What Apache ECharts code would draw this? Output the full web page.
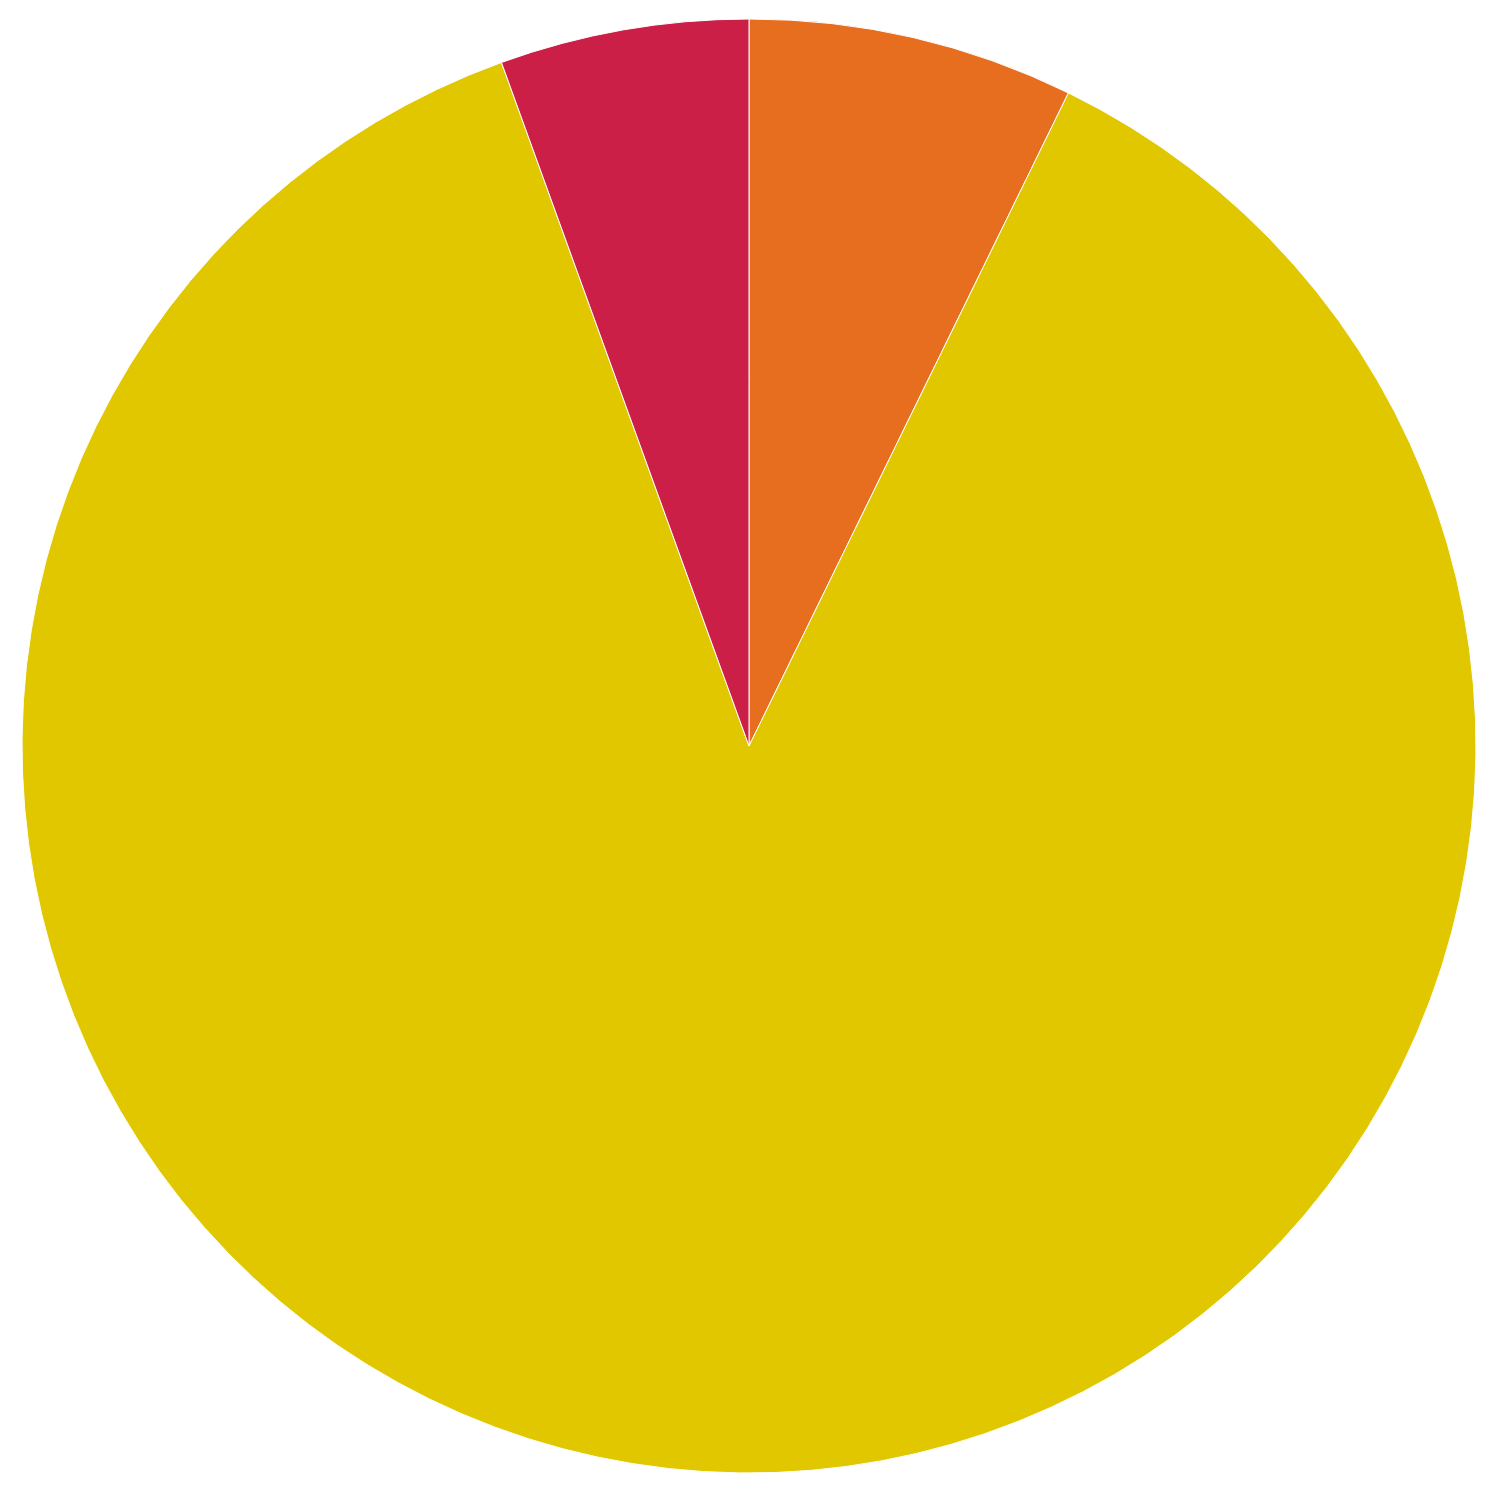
<!DOCTYPE html>
<html>
<head>
<meta charset="utf-8">
<script src="https://cdn.jsdelivr.net/npm/echarts@6/dist/echarts.min.js"></script>
<style>html,body{margin:0;padding:0;background:#fff;}#chart{width:1500px;height:1500px;}</style>
</head>
<body>
<div id="chart"></div>
<script>
const categories = ["A", "B", "C"];
const values = [7.24, 87.23, 5.53];
const colors = ["#E76E1E", "#E0C700", "#CC1F47"];

const chart = echarts.init(document.getElementById('chart'), null, {renderer: 'canvas'});
chart.setOption({
  animation: false,
  backgroundColor: '#ffffff',
  series: [{
    type: 'pie',
    center: [749, 746],
    radius: [0, 727],
    startAngle: 90,
    clockwise: true,
    label: {show: false},
    labelLine: {show: false},
    emphasis: {disabled: true},
    itemStyle: {borderColor: '#ffffff', borderWidth: 1},
    data: categories.map((c, i) => ({name: c, value: values[i], itemStyle: {color: colors[i]}}))
  }]
});
</script>
</body>
</html>
